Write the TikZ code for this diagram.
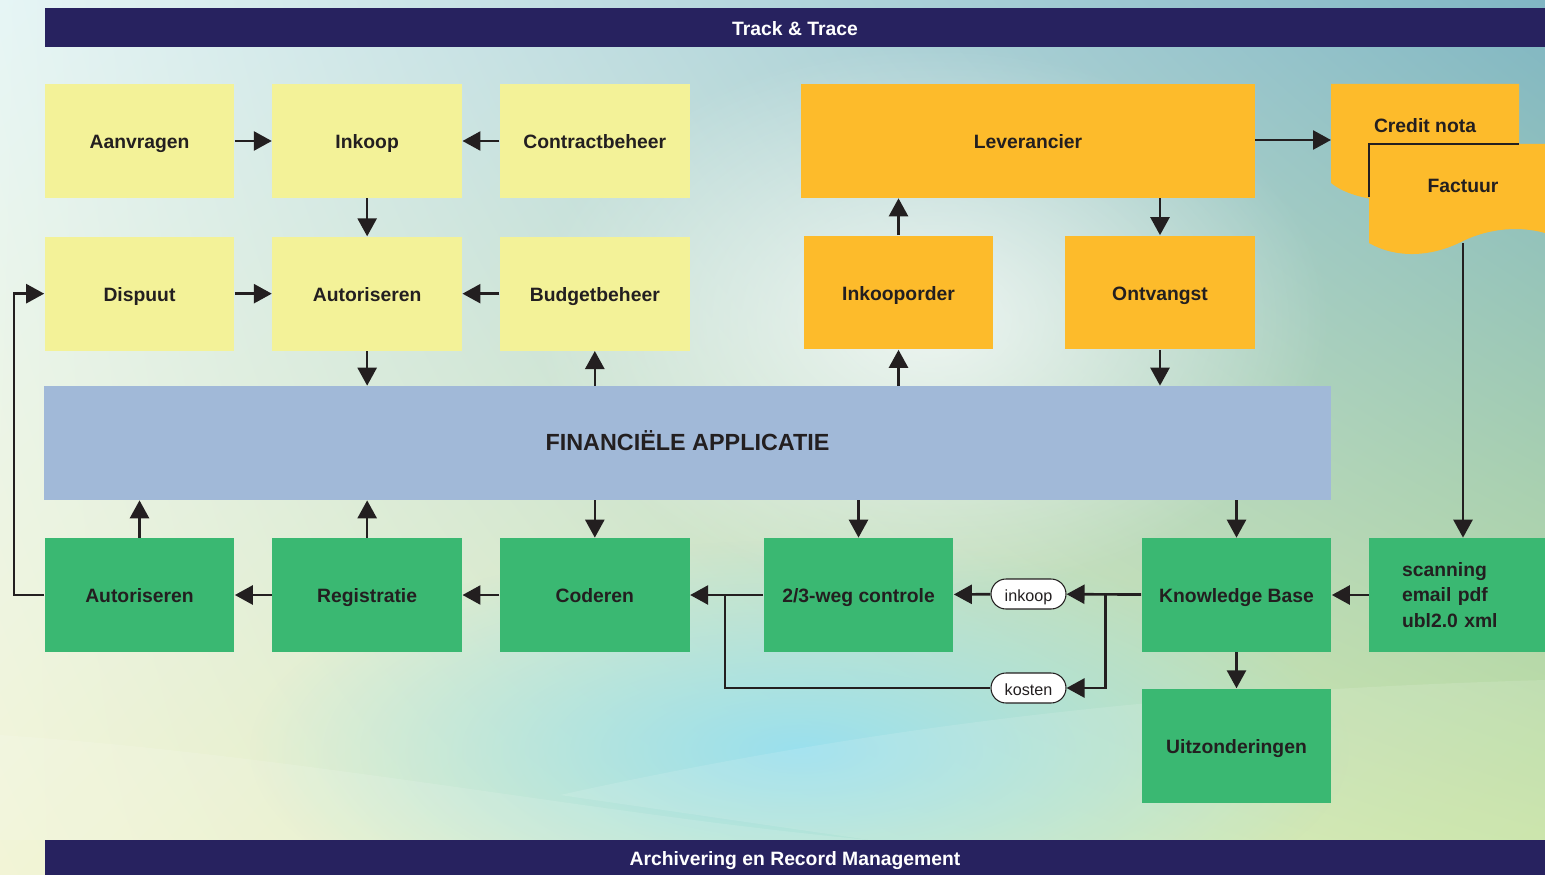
\documentclass[tikz,border=0pt]{standalone}
\usepackage{fontspec}
\setmainfont{Liberation Sans}
\usetikzlibrary{arrows.meta, positioning, shadings, fadings}
\definecolor{reqyellow}{HTML}{F3F298}
\definecolor{suporange}{HTML}{FDBB2B}
\definecolor{appblue}{HTML}{A1B9D8}
\definecolor{procgreen}{HTML}{3AB872}
\definecolor{barnavy}{HTML}{27225F}
\definecolor{inkdark}{HTML}{231F20}
\definecolor{skycyan}{HTML}{9AE0EE}
\definecolor{bgtopleft}{HTML}{E6F5F5}
\definecolor{bgtopright}{HTML}{80B6C4}
\definecolor{bgbotleft}{HTML}{F2F4D6}
\definecolor{bgbotright}{HTML}{C8E4A0}
\tikzfading[name=soft blob, inner color=transparent!0, outer color=transparent!100]

\begin{document}
\begin{tikzpicture}[
  x=0.02cm, y=-0.02cm,
  node distance=0.74cm,
  box/.style={minimum width=3.8cm, minimum height=2.28cm, inner sep=0pt, text height=0.9em, text depth=0.04em, font=\bfseries\fontsize{11}{13}\selectfont, text=inkdark},
  req box/.style={box, fill=reqyellow},
  sup box/.style={box, fill=suporange},
  proc box/.style={box, fill=procgreen},
  app band/.style={box, fill=appblue, minimum width=25.74cm, font=\bfseries\fontsize{13.3}{15}\selectfont},
  bar band/.style={fill=barnavy, text=white, minimum width=30cm, inner sep=0pt, text height=0.9em, text depth=0.04em, font=\bfseries\fontsize{11}{13}\selectfont},
  doc label/.style={font=\bfseries\fontsize{11}{13}\selectfont, text=inkdark},
  tag pill/.style={draw=inkdark, line width=0.6pt, fill=white, rounded corners=0.3cm, minimum width=1.5cm, minimum height=0.6cm, inner sep=0pt, text height=0.9em, text depth=0.04em, font=\fontsize{9.2}{11}\selectfont, text=inkdark},
  flow/.style={draw=inkdark, line width=1.5pt, -{Triangle[length=0.36cm, width=0.38cm]}},
  link/.style={draw=inkdark, line width=1.5pt}
]
  \useasboundingbox (0,0) rectangle (1545,875);
  % achtergrond
  \shade[upper left=bgtopleft, upper right=bgtopright, lower left=bgbotleft, lower right=bgbotright] (0,0) rectangle (1545,875);
  \fill[skycyan, path fading=soft blob] (800,750) ellipse [x radius=11cm, y radius=4.2cm];
  \fill[white, path fading=soft blob, opacity=0.75] (930,320) ellipse [x radius=8cm, y radius=5.5cm];
  \fill[white, opacity=0.12] (0,735) .. controls (300,755) and (600,815) .. (870,840) -- (0,840) -- cycle;
  \fill[white, opacity=0.12] (560,795) .. controls (900,720) and (1200,690) .. (1545,680) -- (1545,840) -- (870,840) -- cycle;

  % balken
  \node[bar band, minimum height=0.78cm] (track) at (795,27.5) {Track \& Trace};
  \node[bar band, minimum height=0.7cm] (archive) at (795,857.5) {Archivering en Record Management};

  % aanvraag
  \node[req box] (request) at (139.5,141) {Aanvragen};
  \node[req box, right=of request] (purchase) {Inkoop};
  \node[req box, right=of purchase] (contract) {Contractbeheer};
  \node[req box, below=0.76cm of request] (dispute) {Dispuut};
  \node[req box, right=of dispute] (approve) {Autoriseren};
  \node[req box, right=of approve] (budget) {Budgetbeheer};

  % financiele applicatie
  \node[app band] (finance) at (687.5,443) {FINANCIËLE APPLICATIE};

  % leverancier
  \node[sup box, minimum width=9.08cm] (supplier) at (1028,141) {Leverancier};
  \node[sup box] (order) at (898.5,292.5) {Inkooporder};
  \node[sup box] (receipt) at (1160,292.5) {Ontvangst};

  % credit nota en factuur
  \fill[suporange] (1331,84) -- (1519,84) -- (1519,200) -- (1380,200)
    .. controls (1360,198) and (1342,192) .. (1331,183) -- cycle;
  \fill[suporange] (1369,144) -- (1545,144) -- (1545,233)
    .. controls (1520,226) and (1490,228) .. (1463,241)
    .. controls (1430,258) and (1395,258) .. (1369,243) -- cycle;
  \draw[inkdark, line width=0.6pt] (1369,197) -- (1369,144) -- (1519,144);
  \node[doc label] (credit) at (1425,126) {Credit nota};
  \node[doc label] (invoice) at (1463,186) {Factuur};
  \coordinate (credit in) at (1331,140);
  \coordinate (invoice out) at (1463,243);

  % verwerking
  \node[proc box] (approve2) at (139.5,595) {Autoriseren};
  \node[proc box, right=of approve2] (register) {Registratie};
  \node[proc box, right=of register] (code) {Coderen};
  \node[proc box] (match) at (858.5,595) {2/3-weg controle};
  \node[proc box] (kb) at (1236.5,595) {Knowledge Base};
  \node[proc box, below=0.72cm of kb] (exceptions) {Uitzonderingen};
  \node[proc box, minimum width=3.52cm, text width=2.2cm, align=left, inner xsep=0.66cm,
        text height={}, text depth={},
        font=\bfseries\fontsize{11}{14.5}\selectfont] (scan) at (1457,595) {scanning\\email pdf\\ubl2.0 xml};
  \node[tag pill] (tag buy) at (1028.5,594) {inkoop};
  \node[tag pill] (tag cost) at (1028.5,688) {kosten};
  \coordinate[left=0.72cm of kb.west] (kb split);
  \coordinate[right=0.7cm of code.east] (code join);

  % pijlen boven
  \draw[flow] (request) -- (purchase);
  \draw[flow] (contract) -- (purchase);
  \draw[flow] (purchase) -- (approve);
  \draw[flow] (dispute) -- (approve);
  \draw[flow] (budget) -- (approve);
  \draw[flow] (approve) -- (approve |- finance.north);
  \draw[flow] (finance.north -| budget) -- (budget);
  \draw[flow] (finance.north -| order) -- (order);
  \draw[flow] (order) -- (order |- supplier.south);
  \draw[flow] (supplier.south -| receipt) -- (receipt);
  \draw[flow] (receipt) -- (receipt |- finance.north);
  \draw[flow] (supplier.east |- credit in) -- (credit in);
  \draw[flow] (invoice out) -- (invoice out |- scan.north);

  % pijlen onder
  \draw[flow] (approve2) -- (approve2 |- finance.south);
  \draw[flow] (register) -- (register |- finance.south);
  \draw[flow] (finance.south -| code) -- (code);
  \draw[flow] (finance.south -| match) -- (match);
  \draw[flow] (finance.south -| kb) -- (kb);
  \draw[flow] (register) -- (approve2);
  \draw[flow] (code) -- (register);
  \draw[flow] (match) -- (code);
  \draw[flow] (kb) -- (tag buy);
  \draw[flow] (tag buy) -- (match);
  \draw[flow] (scan) -- (kb);
  \draw[flow] (kb) -- (exceptions);
  \draw[flow] (kb split) |- (tag cost);
  \draw[link] (tag cost) -| (code join);
  \draw[flow] (approve2.west) -- ++(-0.6cm,0) |- (dispute.west);
\end{tikzpicture}
\end{document}
